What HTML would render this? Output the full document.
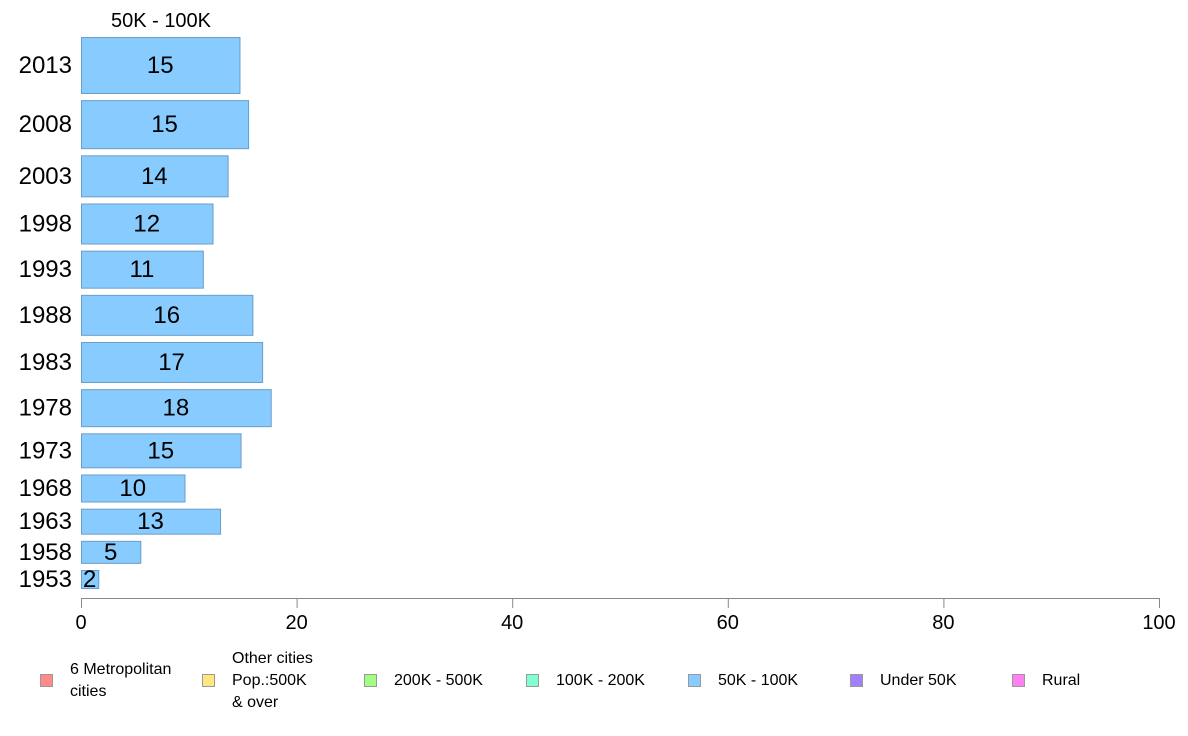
<!DOCTYPE html>
<html><head><meta charset="utf-8"><style>
body{margin:0;background:#fff;font-family:"Liberation Sans",Arial,sans-serif}
svg{display:block}
</style></head><body>
<svg id="chart" width="1188" height="736" xmlns="http://www.w3.org/2000/svg" font-family="Liberation Sans, Arial, sans-serif">
<text x="161" y="27" font-size="20" text-anchor="middle">50K - 100K</text>
<g id="bars"></g>
<g id="axis"></g>
<g id="legend"></g>
</svg>
<script>
const years=["2013","2008","2003","1998","1993","1988","1983","1978","1973","1968","1963","1958","1953"];
const values=[14.7,15.5,13.6,12.2,11.3,15.9,16.8,17.6,14.8,9.6,12.9,5.5,1.6];
const labels=["15","15","14","12","11","16","17","18","15","10","13","5","2"];
const weights=[56,48,41,40,37,40,40,37,34,27,25,22,18];
const ticks=[0,20,40,60,80,100];
const legendNames=[["6 Metropolitan"," cities"],["Other cities","Pop.:500K"," & over"],["200K - 500K"],["100K - 200K"],["50K - 100K"],["Under 50K"],["Rural"]];
const legendColors=["#ff8a8a","#ffe680","#a0ff80","#80ffd0","#88ccff","#a080ff","#ff80f0"];
const NS="http://www.w3.org/2000/svg";
const x0=81,x1=1159,yTop=37,yBot=588,axisY=598;
const xs=v=>x0+(v/100)*(x1-x0);
const gap=((yBot-yTop)-weights.reduce((a,b)=>a+b,0))/(weights.length-1);
function mk(t,a,p){const e=document.createElementNS(NS,t);for(const k in a)e.setAttribute(k,a[k]);p.appendChild(e);return e;}
const bars=document.getElementById('bars');
let y=yTop;
years.forEach((yr,i)=>{
  const h=weights[i];
  const r=mk('rect',{x:x0+0.5,y:y+0.5,width:xs(values[i])-x0,height:h,fill:'#88ccff',stroke:'#6c9cc8','stroke-width':1},bars);
  
  
  const t=mk('text',{x:(x0+xs(values[i]))/2,y:y+h/2+8,'font-size':24,'text-anchor':'middle'},bars);
  t.textContent=labels[i];
  
  
  const yl=mk('text',{x:72,y:y+h/2+8,'font-size':24,'text-anchor':'end'},bars);
  yl.textContent=yr;
  
  
  y+=h+gap;
});
const ax=document.getElementById('axis');
const line=mk('line',{x1:x0,x2:x1,y1:axisY+0.5,y2:axisY+0.5,stroke:'#888','stroke-width':1},ax);


ticks.forEach(tv=>{
  const tk=mk('line',{x1:xs(tv)+0.5,x2:xs(tv)+0.5,y1:axisY,y2:axisY+10,stroke:'#888'},ax);
  
  
  const tl=mk('text',{x:xs(tv),y:629,'font-size':20,'text-anchor':'middle'},ax);
  tl.textContent=tv;
  
  
});
const lg=document.getElementById('legend');
legendNames.forEach((lines,i)=>{
  const lx=40+i*162;
  const g=mk('g',{},lg);
  
  
  mk('rect',{x:lx+0.5,y:674.5,width:12,height:12,fill:legendColors[i],stroke:'#999'},g);
  const n=lines.length, startY=685-(n-1)*11;
  lines.forEach((ln,j)=>{
    const t=mk('text',{x:lx+30,y:startY+j*22,'font-size':16},g);
    t.setAttribute('xml:space','preserve');
    t.textContent=ln;
  });
});
</script>
</body></html>
